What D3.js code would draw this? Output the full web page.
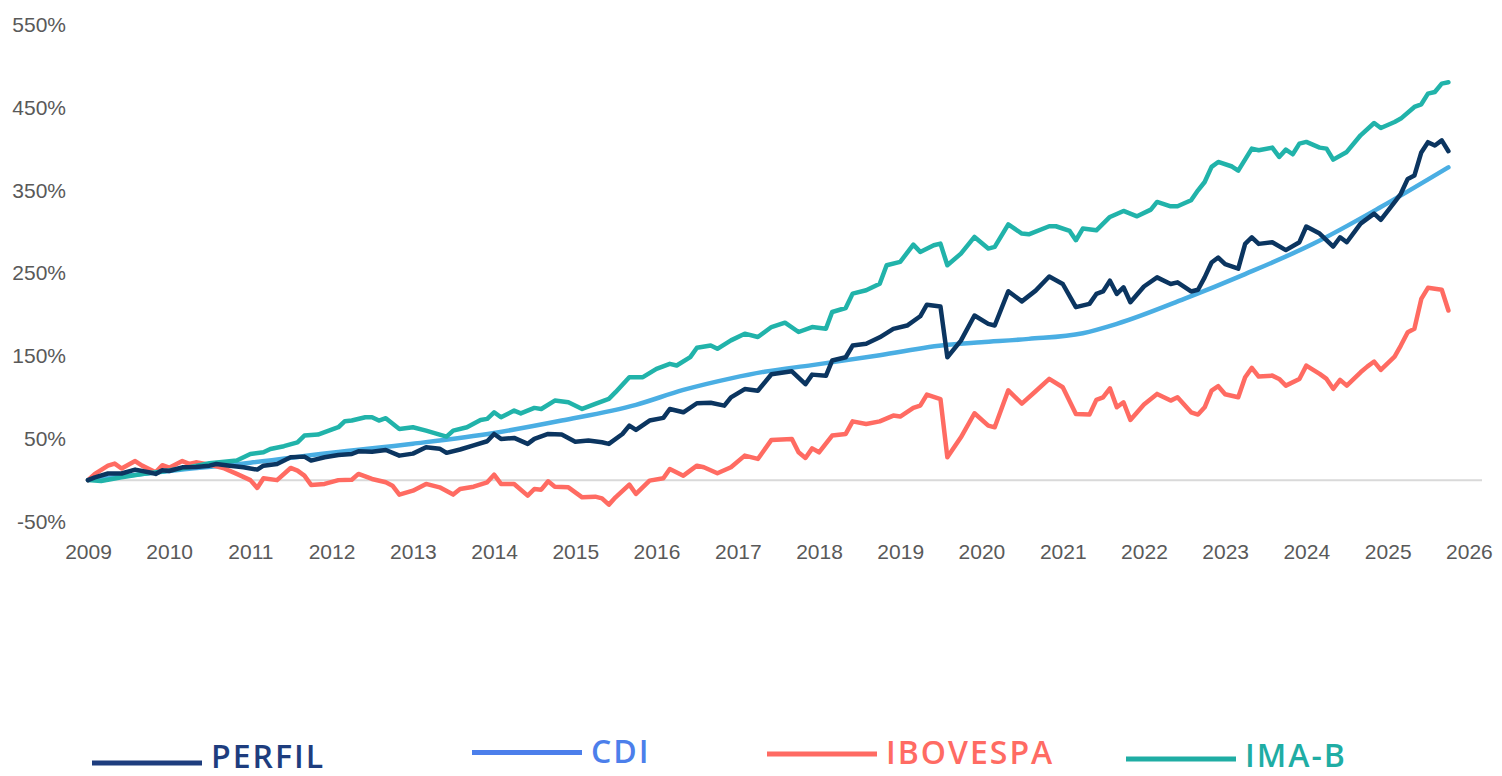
<!DOCTYPE html>
<html>
<head>
<meta charset="utf-8">
<title>PERFIL x CDI x IBOVESPA x IMA-B</title>
<script src="https://d3js.org/d3.v7.min.js"></script>
<style>
body { margin: 0; background: #fff; }
.tick text { font-family: "Liberation Sans", Arial, sans-serif; font-size: 21px; fill: #595959; }
.legend text { font-family: "Open Sans", sans-serif; font-weight: 600; font-size: 32px; letter-spacing: 2px; }
</style>
</head>
<body>

<div id="chart"></div>

<script>

var years = [2009, 2010, 2011, 2012, 2013, 2014, 2015, 2016, 2017, 2018, 2019, 2020, 2021, 2022, 2023, 2024, 2025, 2026];
var yTicks = [-50, 50, 150, 250, 350, 450, 550];
var names = ["PERFIL", "CDI", "IBOVESPA", "IMA-B"];

// cumulative return in %, month -> value
var perfil = [
	["2009-01",0],["2009-02",3.4],["2009-04",8],["2009-06",8],["2009-08",12.7],["2009-10",9.5],["2009-11",7.5],["2009-12",12],
	["2010-01",11],["2010-03",15.5],["2010-05",16],["2010-07",17.5],["2010-08",19.5],["2010-10",17.5],["2010-12",15.5],
	["2011-02",12.7],["2011-03",17.5],["2011-05",19.5],["2011-07",27.6],["2011-09",28.4],["2011-10",23.6],["2011-12",27.6],
	["2012-02",30.4],["2012-04",31.6],["2012-05",34.8],["2012-07",34.4],["2012-09",36.4],["2012-11",29.6],
	["2013-01",32],["2013-03",39.7],["2013-05",38],["2013-06",33],["2013-08",37],["2013-10",42],["2013-12",47],
	["2014-01",55.8],["2014-02",49.8],["2014-04",51],["2014-06",43.8],["2014-07",49.8],["2014-09",55.8],["2014-11",55],
	["2015-01",46.5],["2015-03",47.8],["2015-05",45.7],["2015-06",43.8],["2015-08",55.8],["2015-09",65.9],["2015-10",60.7],["2015-12",72],
	["2016-02",75.2],["2016-03",86],["2016-05",82],["2016-07",92.9],["2016-09",93.5],["2016-11",90],["2016-12",100],
	["2017-02",110],["2017-04",108],["2017-06",128],["2017-09",131.5],["2017-11",116],["2017-12",127.5],
	["2018-02",126],["2018-03",144.5],["2018-05",148.5],["2018-06",162.6],["2018-08",164.7],["2018-10",172.6],["2018-12",182.8],
	["2019-02",186.8],["2019-04",198],["2019-05",212],["2019-07",209.8],["2019-08",148.5],["2019-10",168.6],["2019-12",198.9],
	["2020-02",188.8],["2020-03",186.8],["2020-05",228.3],["2020-07",216],["2020-09",229],["2020-11",246],
	["2021-01",237],["2021-03",209],["2021-05",213],["2021-06",225],["2021-07",228],["2021-08",241],["2021-09",225],["2021-10",233],["2021-11",215],
	["2022-01",234],["2022-03",245],["2022-05",237],["2022-06",239],["2022-08",228],["2022-09",230],["2022-10",245],["2022-11",263],["2022-12",269],
	["2023-01",261],["2023-03",255.5],["2023-04",285.5],["2023-05",293.5],["2023-06",285.5],["2023-08",287.5],["2023-10",278],["2023-12",287.5],
	["2024-01",306.5],["2024-03",298],["2024-05",282.3],["2024-06",293.5],["2024-07",287.5],["2024-09",310],["2024-11",322],["2024-12",314.6],
	["2025-02",336],["2025-03",346],["2025-04",364],["2025-05",368],["2025-06",396],["2025-07",408.4],["2025-08",404.4],["2025-09",410.5],["2025-10",397.5]
];

var cdi = [
	["2009-01",0],["2010-01",11],["2011-01",21],["2012-01",33],["2013-01",44],["2014-01",57],["2014-11",72],["2015-10",91],
	["2016-05",109],["2016-12",123],["2017-05",131],["2017-12",139],["2018-10",151],["2019-08",163.5],["2020-01",166.6],
	["2020-08",170.7],["2021-04",177.5],["2021-09",188.8],["2022-07",219],["2023-04",249],["2024-02",285.6],["2024-12",330],["2025-10",378]
];

var ibovespa = [
	["2009-01",0],["2009-02",7.5],["2009-04",17.5],["2009-05",20],["2009-06",14],["2009-08",23],["2009-09",17.5],["2009-11",9.5],["2009-12",18],
	["2010-01",15],["2010-03",23],["2010-04",19.6],["2010-05",21.5],["2010-07",18.7],["2010-09",14.7],["2010-11",7.5],
	["2011-01",0],["2011-02",-9.4],["2011-03",2.2],["2011-05",0],["2011-07",14.7],["2011-08",11.5],["2011-09",5.4],["2011-10",-5.8],["2011-12",-4.6],
	["2012-02",0],["2012-04",0.5],["2012-05",7.5],["2012-07",1.4],["2012-09",-2.6],["2012-10",-6.7],["2012-11",-17.5],
	["2013-01",-12.7],["2013-03",-4.6],["2013-05",-8.7],["2013-07",-17.5],["2013-08",-10.7],["2013-10",-7.9],["2013-12",-2.6],
	["2014-01",6.6],["2014-02",-4.6],["2014-04",-4.6],["2014-06",-18.7],["2014-07",-10.7],["2014-08",-11.5],["2014-09",-1.4],["2014-10",-7.9],["2014-12",-8.7],
	["2015-02",-20.8],["2015-04",-20],["2015-05",-22],["2015-06",-29.6],["2015-07",-20.8],["2015-09",-5.4],["2015-10",-16.7],["2015-12",-0.6],
	["2016-02",2.2],["2016-03",13.5],["2016-05",5.4],["2016-07",17.5],["2016-08",15.5],["2016-10",8.3],["2016-12",15.5],
	["2017-02",29.6],["2017-04",25.6],["2017-06",48.6],["2017-09",49.8],["2017-10",33.6],["2017-11",26.8],["2017-12",38.4],
	["2018-01",33.6],["2018-03",53.8],["2018-05",55.8],["2018-06",71],["2018-08",67.9],["2018-10",71],["2018-12",78],
	["2019-01",76.8],["2019-03",87.3],["2019-04",90],["2019-05",103.4],["2019-07",98],["2019-08",27.6],["2019-10",51.7],["2019-12",80.8],
	["2020-02",65.9],["2020-03",63.8],["2020-05",108.5],["2020-07",92.5],["2020-09",107.4],["2020-11",122.3],
	["2021-01",112.2],["2021-03",80],["2021-05",79.2],["2021-06",97],["2021-07",100.1],["2021-08",111],["2021-09",88],["2021-10",94.1],["2021-11",72.8],
	["2022-01",91.3],["2022-03",104.2],["2022-05",96.1],["2022-06",100.1],["2022-08",82],["2022-09",79.2],["2022-10",88],["2022-11",108.2],["2022-12",113.5],
	["2023-01",103.8],["2023-03",100.1],["2023-04",124.3],["2023-05",135.6],["2023-06",125.1],["2023-08",126.3],["2023-09",122.3],["2023-10",114.2],["2023-12",122.3],
	["2024-01",138.4],["2024-03",128.4],["2024-04",122.3],["2024-05",110.3],["2024-06",121.1],["2024-07",114.2],["2024-09",130.3],["2024-10",137.2],["2024-11",143.3],["2024-12",133.2],
	["2025-02",149.3],["2025-03",162.6],["2025-04",178.7],["2025-05",182.8],["2025-06",219],["2025-07",232.4],["2025-09",230],["2025-10",205]
];

var imab = [
	["2009-01",0],["2009-03",-1],["2009-06",3.4],["2009-09",7.5],["2009-12",10.5],
	["2010-04",15.5],["2010-07",20.3],["2010-11",23.6],
	["2011-01",31.6],["2011-03",33.6],["2011-04",37.7],["2011-06",41],["2011-08",45.7],["2011-09",53.8],["2011-11",55],
	["2012-01",61],["2012-02",63.9],["2012-03",71.2],["2012-04",72],["2012-06",76],["2012-07",76],["2012-08",72],["2012-09",74.8],["2012-11",61.8],
	["2013-01",63.9],["2013-03",59.8],["2013-05",55],["2013-06",52.6],["2013-07",59.8],["2013-09",63.9],["2013-11",72.7],["2013-12",74],
	["2014-01",82],["2014-02",76],["2014-04",84],["2014-05",80.6],["2014-07",87.3],["2014-08",86],["2014-10",96.1],["2014-12",94.1],
	["2015-02",86],["2015-04",92.1],["2015-06",98.2],["2015-07",106.3],["2015-09",124.4],["2015-11",124.4],
	["2016-01",134.5],["2016-03",140.5],["2016-04",138.5],["2016-06",148.6],["2016-07",159.9],["2016-09",162.7],["2016-10",158.7],["2016-12",168.9],
	["2017-02",177],["2017-04",172.9],["2017-06",185],["2017-08",190.3],["2017-10",179],["2017-12",185],
	["2018-02",183],["2018-03",203.2],["2018-05",208],["2018-06",225.4],["2018-08",229.4],["2018-10",237.4],["2018-11",259.6],
	["2019-01",263.7],["2019-03",284.6],["2019-04",275.8],["2019-06",283.8],["2019-07",285.8],["2019-08",259.6],["2019-10",273.7],["2019-12",293.9],
	["2020-02",279.8],["2020-03",281.8],["2020-05",309],["2020-07",298],["2020-08",297],["2020-11",306.8],["2020-12",306.8],
	["2021-02",301.2],["2021-03",289.9],["2021-04",304],["2021-06",301.9],["2021-08",318],["2021-10",325.3],["2021-12",318.8],
	["2022-02",326.9],["2022-03",336.2],["2022-05",330.9],["2022-06",330.9],["2022-08",338.2],["2022-09",350.2],["2022-10",360.3],["2022-11",378.5],["2022-12",384.5],
	["2023-02",379],["2023-03",374],["2023-05",400.6],["2023-06",398.6],["2023-08",401.8],["2023-09",390.6],["2023-10",399.4],["2023-11",393.8],["2023-12",406.7],
	["2024-01",408.7],["2024-03",401.8],["2024-04",400.6],["2024-05",387.3],["2024-07",396.6],["2024-09",416.7],["2024-11",431.6],["2024-12",425.6],
	["2025-02",432.8],["2025-03",436.9],["2025-05",451],["2025-06",454.2],["2025-07",467.1],["2025-08",469.1],["2025-09",479.2],["2025-10",480.8]
];

var width = 1502;
var height = 776;

var parseMonth = d3.timeParse("%Y-%m");

var svg = d3.select("#chart")
	.append("svg")
		.attr("width", width)
		.attr("height", height);

var x = d3.scaleTime()
	.domain([parseMonth("2009-01"), parseMonth("2026-03")])
	.range([88, 1482]);

var y = d3.scaleLinear()
	.domain([-50, 550])
	.range([521.5, 25]);

// axes: labels only
svg.append("g")
	.attr("transform", "translate(0,536)")
	.call(d3.axisBottom(x)
		.tickValues(years.map(function(d) { return new Date(d, 0, 1); }))
		.tickFormat(d3.timeFormat("%Y"))
		.tickSize(0)
		.tickPadding(8))
	.call(function(g) { g.select(".domain").remove(); });

svg.append("g")
	.attr("transform", "translate(74,0)")
	.call(d3.axisLeft(y)
		.tickValues(yTicks)
		.tickFormat(function(d) { return d + "%"; })
		.tickSize(0)
		.tickPadding(8))
	.call(function(g) { g.select(".domain").remove(); });

svg.append("line")
	.attr("x1", x.range()[0])
	.attr("x2", x.range()[1])
	.attr("y1", y(0))
	.attr("y2", y(0))
	.style("stroke", "#d9d9d9")
	.style("stroke-width", 2);

var lineColors = {"PERFIL": "#0b3560", "CDI": "#4aaee3", "IBOVESPA": "#ff6b62", "IMA-B": "#21b3aa"};
var seriesData = {"PERFIL": perfil, "CDI": cdi, "IBOVESPA": ibovespa, "IMA-B": imab};

var line = d3.line()
	.x(function(d) { return x(parseMonth(d[0])); })
	.y(function(d) { return y(d[1]); });

var smoothLine = d3.line()
	.curve(d3.curveMonotoneX)
	.x(function(d) { return x(parseMonth(d[0])); })
	.y(function(d) { return y(d[1]); });

["CDI", "IBOVESPA", "IMA-B", "PERFIL"].forEach(function(name) {
	svg.append("path")
		.datum(seriesData[name])
		.attr("d", name == "CDI" ? smoothLine : line)
		.style("fill", "none")
		.style("stroke", lineColors[name])
		.style("stroke-width", 4.5)
		.style("stroke-linejoin", "round")
		.style("stroke-linecap", "round");
});

// legend, staggered like the original
var legendColors = {"PERFIL": "#1e3d7e", "CDI": "#4c7feb", "IBOVESPA": "#ff6b63", "IMA-B": "#1fada4"};
var legendPos = [
	{x: 92, lineY: 763, textY: 768},
	{x: 472, lineY: 752.5, textY: 763},
	{x: 767, lineY: 754, textY: 764},
	{x: 1126, lineY: 759, textY: 767}
];

var legend = svg.append("g").attr("class", "legend");

names.forEach(function(name, i) {
	var p = legendPos[i];
	legend.append("line")
		.attr("x1", p.x)
		.attr("x2", p.x + 110)
		.attr("y1", p.lineY)
		.attr("y2", p.lineY)
		.style("stroke", legendColors[name])
		.style("stroke-width", 5);
	legend.append("text")
		.text(name)
		.attr("x", p.x + 119)
		.attr("y", p.textY)
		.style("fill", legendColors[name]);
});

</script>

</body>
</html>
